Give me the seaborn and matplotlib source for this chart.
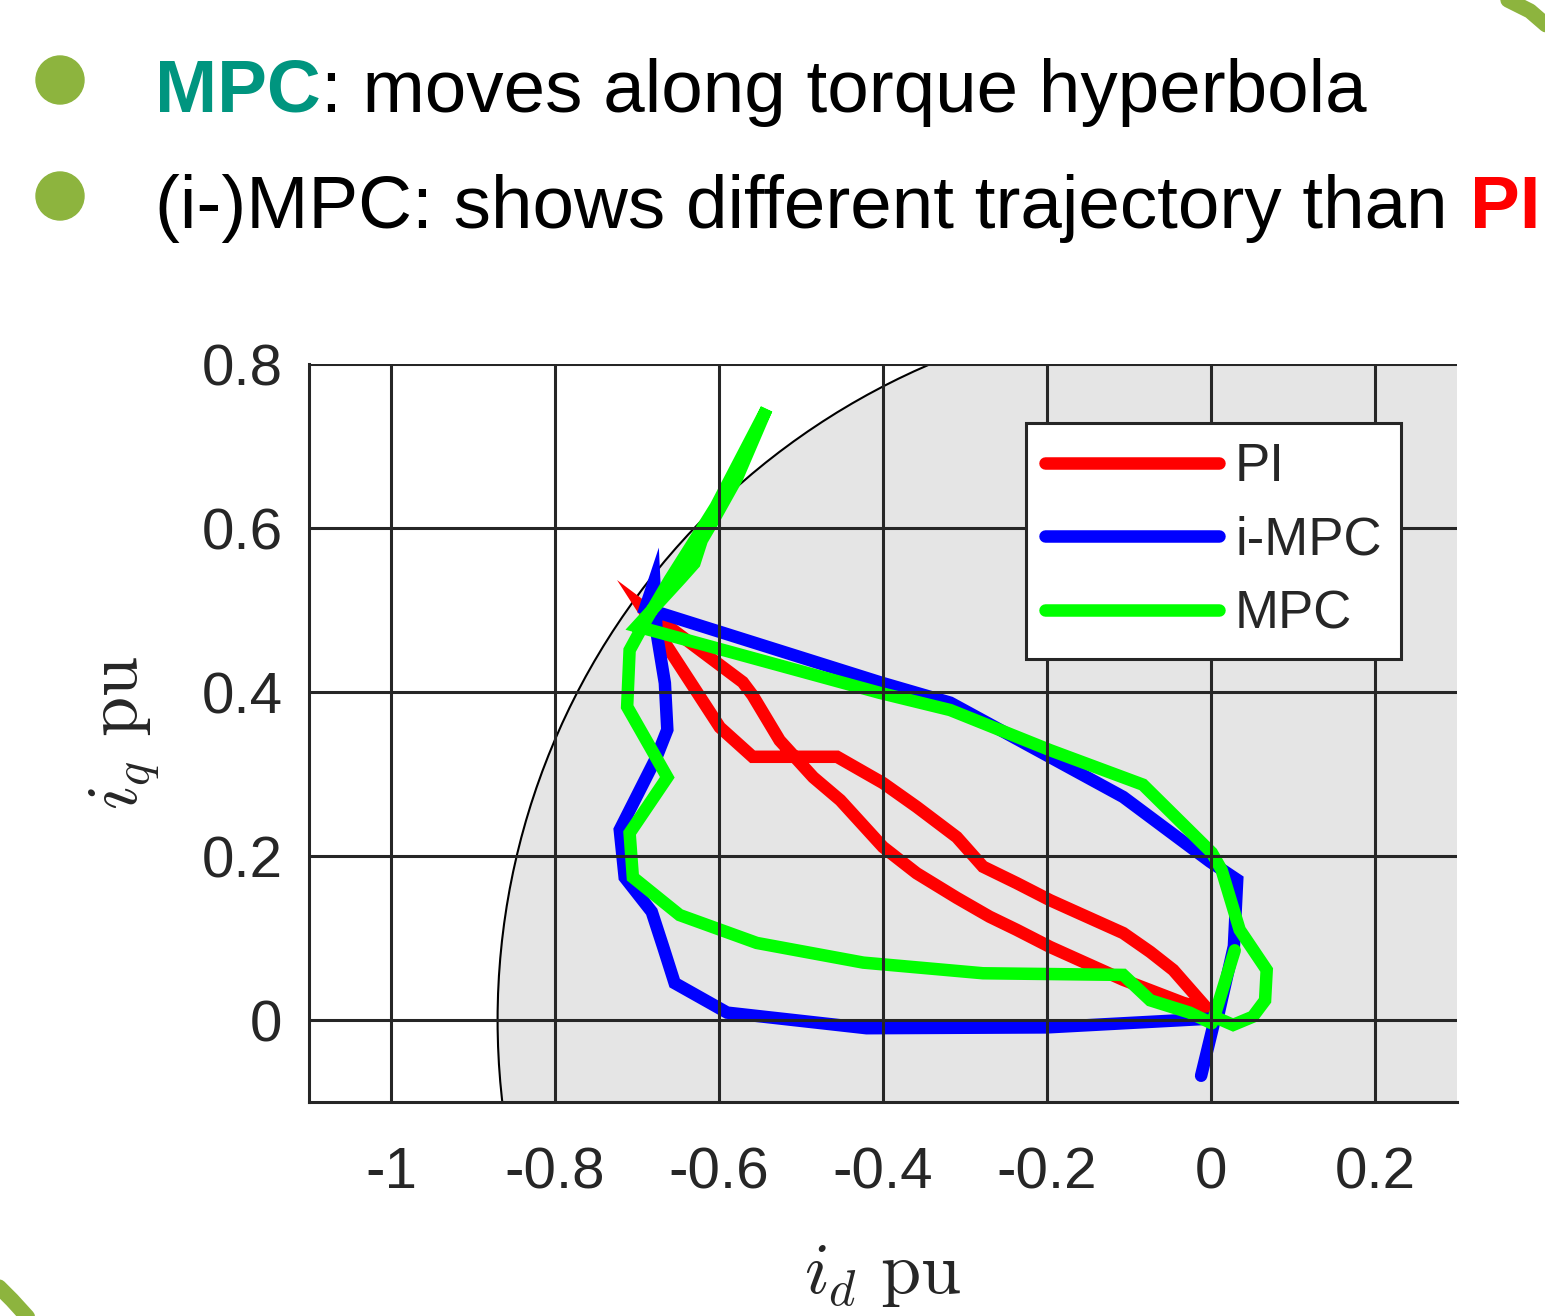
import matplotlib.pyplot as plt
from matplotlib.patches import Circle, Ellipse
from matplotlib.lines import Line2D
import pandas as pd
import seaborn as sns

# current trajectories in the id-iq plane (pu)
pi_id = [-0.003, -0.046, -0.074, -0.107, -0.156, -0.196, -0.237, -0.278, -0.310, -0.359,
         -0.400, -0.456, -0.559, -0.599, -0.668, -0.695, -0.635, -0.571, -0.559, -0.526,
         -0.485, -0.452, -0.400, -0.359, -0.310, -0.270, -0.237, -0.196, -0.156, -0.107,
         -0.034, -0.003]
pi_iq = [0.012, 0.061, 0.083, 0.106, 0.128, 0.146, 0.167, 0.187, 0.223, 0.260,
         0.289, 0.321, 0.321, 0.357, 0.463, 0.505, 0.460, 0.412, 0.396, 0.341,
         0.296, 0.268, 0.211, 0.179, 0.149, 0.126, 0.110, 0.089, 0.071, 0.049,
         0.021, 0.012]

impc_id = [0.008, 0.028, 0.032, -0.001, -0.107, -0.318, -0.404, -0.690, -0.679, -0.676,
           -0.666, -0.663, -0.676, -0.721, -0.715, -0.682, -0.668, -0.654, -0.590, -0.420,
           -0.200, 0.005, -0.012]
impc_iq = [0.002, 0.090, 0.171, 0.193, 0.272, 0.387, 0.412, 0.502, 0.535, 0.472,
           0.411, 0.354, 0.321, 0.232, 0.174, 0.132, 0.089, 0.045, 0.009, -0.010,
           -0.009, 0.002, -0.068]

mpc_id = [0.001, -0.026, -0.074, -0.107, -0.278, -0.424, -0.554, -0.648, -0.705, -0.709,
          -0.663, -0.712, -0.709, -0.691, -0.660, -0.624, -0.604, -0.542, -0.578, -0.607,
          -0.621, -0.630, -0.646, -0.700, -0.404, -0.318, -0.196, -0.083, 0.001, 0.013,
          0.035, 0.068, 0.066, 0.051, 0.027, 0.004, 0.029]
mpc_iq = [-0.004, 0.009, 0.024, 0.055, 0.057, 0.070, 0.094, 0.128, 0.174, 0.228,
          0.296, 0.382, 0.451, 0.484, 0.537, 0.594, 0.626, 0.745, 0.661, 0.609,
          0.585, 0.557, 0.539, 0.480, 0.399, 0.378, 0.329, 0.287, 0.204, 0.183,
          0.110, 0.061, 0.024, 0.004, -0.006, 0.004, 0.085]

controllers = ['PI', 'i-MPC', 'MPC']
line_colors = ['#ff0000', '#0000ff', '#00ff00']
current_limit = 0.87

x_ticks = [-1, -0.8, -0.6, -0.4, -0.2, 0, 0.2]
x_tick_labels = ['-1', '-0.8', '-0.6', '-0.4', '-0.2', '0', '0.2']
y_ticks = [0, 0.2, 0.4, 0.6, 0.8]
y_tick_labels = ['0', '0.2', '0.4', '0.6', '0.8']

df = pd.concat([
    pd.DataFrame({'id': pi_id, 'iq': pi_iq, 'ctrl': 'PI'}),
    pd.DataFrame({'id': impc_id, 'iq': impc_iq, 'ctrl': 'i-MPC'}),
    pd.DataFrame({'id': mpc_id, 'iq': mpc_iq, 'ctrl': 'MPC'}),
], ignore_index=True)

sns.set_theme(style='white')
plt.rcParams['font.family'] = ['Liberation Sans', 'DejaVu Sans']
plt.rcParams['mathtext.fontset'] = 'cm'

fig = plt.figure(figsize=(15.45, 13.16), dpi=100)
ax = fig.add_axes([0.2, 0.16261, 0.7430, 0.56079])

# grey region inside the current limit circle
ax.add_patch(Circle((0, 0), current_limit, facecolor='#e5e5e5', edgecolor='black',
                    lw=1.5, zorder=1))

sns.lineplot(data=df, x='id', y='iq', hue='ctrl', hue_order=controllers,
             palette=dict(zip(controllers, line_colors)), sort=False, estimator=None,
             linewidth=9, solid_joinstyle='miter', solid_capstyle='round',
             legend=False, ax=ax)

ax.set_xlim(-1.1, 0.3)
ax.set_ylim(-0.1, 0.8)
ax.set_xticks(x_ticks)
ax.set_xticklabels(x_tick_labels)
ax.set_yticks(y_ticks)
ax.set_yticklabels(y_tick_labels)
ax.tick_params(axis='x', length=0, pad=32, labelsize=42, labelcolor='#262626')
ax.tick_params(axis='y', length=0, pad=19, labelsize=42, labelcolor='#262626')
ax.grid(True, color='#262626', lw=2.2)
ax.set_axisbelow(False)
for side in ['top', 'right']:
    ax.spines[side].set_visible(False)
for side in ['left', 'bottom']:
    ax.spines[side].set_color('#262626')
    ax.spines[side].set_linewidth(2.2)

ax.set_xlabel(r'$i_d\ \mathrm{pu}$', fontsize=52, labelpad=30)
ax.set_ylabel(r'$i_q\ \mathrm{pu}$', fontsize=52, labelpad=28)

leg = ax.legend(ax.lines[:3], controllers, loc='upper left',
                bbox_to_anchor=(0.6246, 0.92), fontsize=38, frameon=True,
                fancybox=False, edgecolor='#262626', framealpha=1,
                handlelength=3.3, handletextpad=0.3, labelspacing=0.45,
                borderpad=0.36, borderaxespad=0)
leg.get_frame().set_linewidth(2.2)

# slide text with bullets
for yb in [1 - 80 / 1316, 1 - 196 / 1316]:
    fig.add_artist(Ellipse((60 / 1545, yb), 48 / 1545, 48 / 1316,
                           color='#8db43e', transform=fig.transFigure))

t1 = fig.text(155 / 1545, 1 - 112 / 1316, 'MPC', fontsize=53.7, fontweight='bold',
              color='#00957f', va='baseline')
ax.annotate(': moves along torque hyperbola', xy=(1, 0), xycoords=t1,
            fontsize=53.7, va='bottom', ha='left', color='black',
            annotation_clip=False)
t2 = fig.text(155 / 1545, 1 - 228 / 1316, '(i-)MPC: shows different trajectory than',
              fontsize=53.7, color='black', va='baseline')
ax.annotate('PI', xy=(1, 0), xycoords=t2, xytext=(16, 0), textcoords='offset points',
            fontsize=53.7, fontweight='bold', va='bottom', ha='left', color='#ff0000',
            annotation_clip=False)

# decorative corner arcs of the slide
fig.add_artist(Line2D([1508 / 1545, 1530 / 1545, 1552 / 1545],
                      [1.0, 1 - 11 / 1316, 1 - 30 / 1316],
                      color='#8db43e', lw=11, transform=fig.transFigure))
fig.add_artist(Line2D([-6 / 1545, 12 / 1545, 32 / 1545],
                      [1 - 1282 / 1316, 1 - 1300 / 1316, 1 - 1322 / 1316],
                      color='#8db43e', lw=11, transform=fig.transFigure))

plt.savefig('out.png', dpi=100)
plt.close()
